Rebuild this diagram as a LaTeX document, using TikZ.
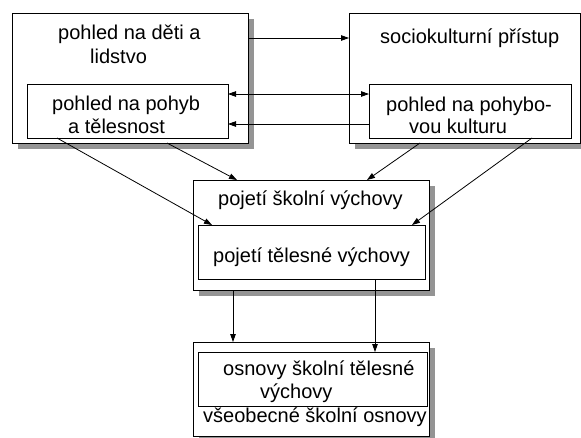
\documentclass[tikz,border=0pt]{standalone}
\usepackage{fontspec}
\setmainfont{Liberation Sans}
\usetikzlibrary{arrows.meta,calc,backgrounds}
\begin{document}
\begin{tikzpicture}[x=1pt,y=-1pt,
  box/.style={draw, line width=0.9pt, fill=white, inner sep=0pt, outer sep=0pt, anchor=north west},
  shadowfill/.style={fill=black!42},
  lbl/.style={anchor=base west, inner sep=0pt, font=\fontsize{20}{24}\selectfont},
  link/.style={line width=0.8pt, -{Triangle[length=8pt,width=5.5pt]}},
  dlink/.style={line width=0.8pt, {Triangle[length=8pt,width=5.5pt]}-{Triangle[length=8pt,width=5.5pt]}},
]
\useasboundingbox (0,0) rectangle (581,437);

% outer boxes
\node[box, minimum width=236pt, minimum height=130pt] (ao) at (12,13) {};
\node[box, minimum width=231pt, minimum height=130pt] (bo) at (349,13) {};
\node[box, minimum width=236pt, minimum height=110pt] (co) at (193,180) {};
\node[box, minimum width=236pt, minimum height=94pt]  (do) at (193,342) {};

% drop shadows behind the outer boxes
\begin{scope}[on background layer]
  \foreach \b in {ao,bo,co,do}
    \fill[shadowfill] ($(\b.north west)+(6,6)$) rectangle ($(\b.south east)+(6,6)$);
\end{scope}

% inner boxes
\node[box, minimum width=201pt, minimum height=54pt] (ai) at (27,84) {};
\node[box, minimum width=202pt, minimum height=54pt] (bi) at (369,84) {};
\node[box, minimum width=227pt, minimum height=54pt] (ci) at (198,225) {};
\node[box, minimum width=229pt, minimum height=54pt] (di) at (198,352) {};

% texts
\node[lbl] (t1) at (58,39)  {pohled na děti a};
\node[lbl] (t2) at (90,63)  {lidstvo};
\node[lbl] (t3) at (52,110) {pohled na pohyb};
\node[lbl] (t4) at (68,133) {a tělesnost};
\node[lbl] (t5) at (380,43) {sociokulturní přístup};
\node[lbl] (t6) at (386,111) {pohled na pohybo-};
\node[lbl] (t7) at (409,133) {vou kulturu};
\node[lbl] (t8) at (218,205) {pojetí školní výchovy};
\node[lbl] (t9) at (213,262) {pojetí tělesné výchovy};
\node[lbl] (t10) at (223,375) {osnovy školní tělesné};
\node[lbl] (t11) at (260,398) {výchovy};
\node[lbl] (t12) at (203,422) {všeobecné školní osnovy};

% connectors
\draw[link]  ($(ao.north east)+(0,25)$) -- ($(bo.north west)+(0,25)$);
\draw[dlink] ($(ai.north east)+(0,10)$) -- ($(bi.north west)+(0,10)$);
\draw[link]  ($(bi.north west)+(0,40)$) -- ($(ai.north east)+(0,40)$);
\draw[link]  ($(ai.south west)+(30,0)$) -- ($(ci.north west)+(14,0)$);
\draw[link]  ($(ao.south west)+(155,0)$) -- ($(co.north west)+(44,0)$);
\draw[link]  ($(bo.south west)+(71,0)$) -- ($(co.north west)+(174,0)$);
\draw[link]  ($(bi.south west)+(163,0)$) -- ($(ci.north west)+(214,0)$);
\draw[link]  ($(co.south west)+(40,0)$) -- ($(do.north west)+(40,0)$);
\draw[link]  ($(ci.south west)+(177,0)$) -- ($(di.north west)+(177,0)$);
\end{tikzpicture}
\end{document}
